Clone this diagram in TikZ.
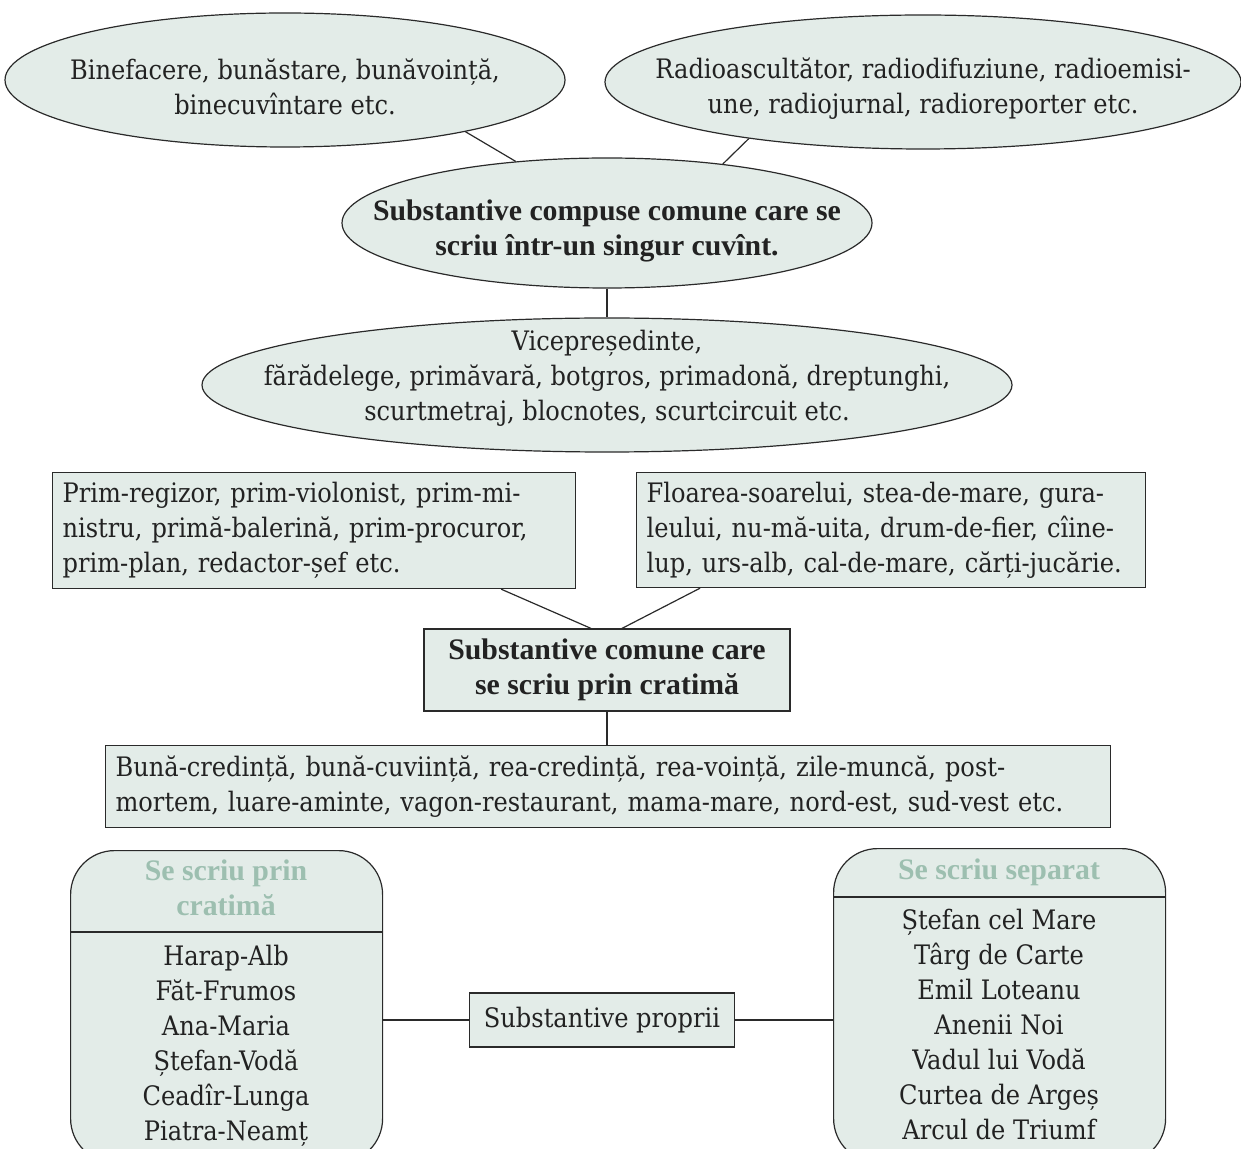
\documentclass[tikz,border=0pt]{standalone}
\usepackage{fontspec}
\setmainfont{DejaVu Serif Condensed}
\newfontfamily\bfont{Liberation Serif}
\usetikzlibrary{shapes.geometric,calc}
\definecolor{boxfill}{HTML}{E3ECE8}
\definecolor{head}{HTML}{9DBFB0}
\definecolor{ink}{HTML}{222222}
\definecolor{edge}{HTML}{2A2A2A}
\begin{document}
\begin{tikzpicture}[x=0.5pt,y=-0.5pt,
  body/.style={font=\fontsize{13.4}{17.5}\selectfont, text=ink},
  boldtxt/.style={font=\bfont\bfseries\fontsize{14.9}{17.5}\selectfont, text=ink},
  headtxt/.style={font=\bfont\bfseries\fontsize{14.9}{17.5}\selectfont, text=head, align=center},
  oval/.style={ellipse, draw=edge, fill=boxfill, line width=0.6pt, inner sep=0pt},
  box/.style={rectangle, draw=edge, fill=boxfill, line width=0.6pt, inner sep=0pt},
  rbox/.style={rectangle, rounded corners=22pt, draw=edge, fill=boxfill, line width=0.6pt, inner sep=0pt},
  link/.style={draw=edge, line width=0.6pt}]
\useasboundingbox (0,0) rectangle (1241,1149);
\clip (0,0) rectangle (1241,1149);

% top ellipses
\node[oval, minimum width=280pt, minimum height=67pt] (e1) at (285,80) {};
\node[body, align=center] (t1) at (285,87)
  {Binefacere, bunăstare, bunăvoință,\\ binecuvîntare etc.};
\node[oval, minimum width=318pt, minimum height=67pt] (e2) at (923,82) {};
\node[body, align=center] (t2) at (923,89)
  {Radioascultător, radiodifuziune, radioemisi-\\ une, radiojurnal, radioreporter etc.};
\node[oval, minimum width=265pt, minimum height=65pt] (ec) at (607,223) {};
\node[boldtxt, align=center] (tc) at (607,231)
  {Substantive compuse comune care se\\ scriu într-un singur cuvînt.};
\node[oval, minimum width=405pt, minimum height=67pt] (e3) at (607,385) {};
\node[body, align=center] (t3) at (607,378)
  {Vicepreședinte,\\ fărădelege, primăvară, botgros, primadonă, dreptunghi,\\ scurtmetraj, blocnotes, scurtcircuit etc.};

\draw[link] (e1.-16) -- (ec.146);
\draw[link] (e2.-162) -- (ec.27);
\draw[link] (ec.south) -- (e3.north);

% hyphenated compounds
\node[box, body, anchor=north west, minimum width=261.5pt, minimum height=58pt,
      text width=251.5pt, align=left] (bl) at (52,472)
  {Prim-regizor, prim-violonist, prim-mi-\\ nistru, primă-balerină, prim-procuror,\\ prim-plan, redactor-șef etc.};
\node[box, body, anchor=north west, minimum width=254.5pt, minimum height=57.5pt,
      text width=244.5pt, align=left] (br) at (636,472)
  {Floarea-soarelui, stea-de-mare, gura-\\ leului, nu-mă-uita, drum-de-fier, cîine-\\ lup, urs-alb, cal-de-mare, cărți-jucărie.};
\node[box, boldtxt, align=center, minimum width=183pt, minimum height=41pt] (cb) at (607,670)
  {Substantive comune care\\ se scriu prin cratimă};
\node[box, body, anchor=north west, minimum width=502.5pt, minimum height=41pt,
      text width=492.5pt, align=left] (bw) at (105,745)
  {Bună-credință, bună-cuviință, rea-credință, rea-voință, zile-muncă, post-\\ mortem, luare-aminte, vagon-restaurant, mama-mare, nord-est, sud-vest etc.};

\draw[link] ($(bl.south east)+(-75,0)$) -- ($(cb.north)+(-16,0)$);
\draw[link] ($(br.south west)+(64,0)$) -- ($(cb.north)+(15,0)$);
\draw[link] (cb.south) -- (bw.north -| cb.south);

% proper nouns
\node[rbox, anchor=north west, minimum width=156pt, minimum height=156pt] (lr) at (70,850) {};
\node[rbox, anchor=north west, minimum width=166pt, minimum height=157pt] (rr) at (833,848) {};
\draw[link] (lr.west |- 0,932) -- (lr.east |- 0,932);
\draw[link] (rr.west |- 0,897) -- (rr.east |- 0,897);
\node[headtxt] (lh) at (226,888) {Se scriu prin\\ cratimă};
\node[headtxt] (rh) at (999,872) {Se scriu separat};
\node[body, align=center, anchor=north] (ll) at (226,938)
  {Harap-Alb\\ Făt-Frumos\\ Ana-Maria\\ Ștefan-Vodă\\ Ceadîr-Lunga\\ Piatra-Neamț};
\node[body, align=center, anchor=north] (rl) at (999,902)
  {Ștefan cel Mare\\ Târg de Carte\\ Emil Loteanu\\ Anenii Noi\\ Vadul lui Vodă\\ Curtea de Argeș\\ Arcul de Triumf};

\node[box, body, minimum width=132.5pt, minimum height=27pt] (sp) at (602,1020) {Substantive proprii};
\draw[link] (sp.west) -- (sp.west -| lr.east);
\draw[link] (sp.east) -- (sp.east -| rr.west);
\end{tikzpicture}
\end{document}
